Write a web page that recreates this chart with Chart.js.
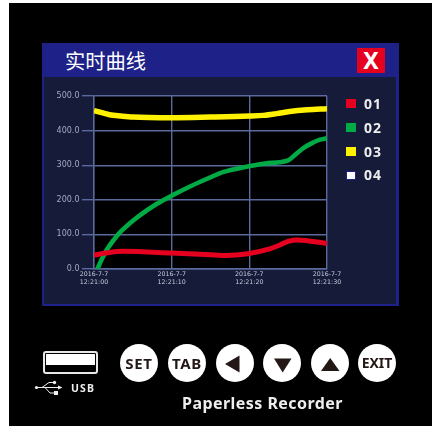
<!DOCTYPE html>
<html>
<head>
<meta charset="utf-8">
<title>实时曲线</title>
<script src="https://cdn.jsdelivr.net/npm/chart.js@4"></script>
<style>
html,body{margin:0;padding:0;background:#fff;overflow:hidden}
body{width:432px;height:426px;position:relative;font-family:"Noto Sans",sans-serif}
div,span{position:absolute;box-sizing:border-box}
#device{left:9px;top:3px;width:423px;height:423px;background:#000}
#panel{left:42px;top:43px;width:357px;height:263px;background:#161b3a;border:solid #1e2288;border-width:0 3px 2.5px 2px}
#header{left:42px;top:43px;width:357px;height:34px;background:#1e2288}
#title{left:65px;top:45px;font:400 20.3px/30px "Noto Sans CJK SC";color:#fff;white-space:nowrap}
#closeBtn{left:357px;top:48px;width:28px;height:25px;background:#e60020;color:#fff;font:700 23px/25px "Noto Sans";text-align:center}
#chart{position:absolute;left:0;top:0}
.swatch{left:346px;width:10px;height:9px}
.legendText{left:364px;width:30px;font:700 14px/18px "Noto Sans";letter-spacing:1px;color:#eee}
.btn{width:38px;height:38px;top:344px;border-radius:50%;background:#fff;color:#231815;font:700 15px/38px "Noto Sans";letter-spacing:.7px;text-align:center}
#usbPort{left:43px;top:351px;width:55px;height:23px;border:2px solid #e8e8e8;border-radius:3px}
#usbBar{left:46px;top:353.5px;width:49px;height:11px;background:#fff}
#usbText{left:71px;top:381px;font:700 10.5px/15px "Noto Sans";letter-spacing:1.1px;color:#eee}
#brand{left:182px;top:391px;font:700 16px/24px "Noto Sans";letter-spacing:.45px;color:#eee;white-space:nowrap}
svg{position:absolute;left:0;top:0}
</style>
</head>
<body>
<div id="device"></div>
<div id="panel"></div>
<div id="header"></div>
<div id="title">实时曲线</div>
<div id="closeBtn">X</div>
<canvas id="chart" width="432" height="426"></canvas>
<div id="legendBox"></div>
<div id="usbPort"></div>
<div id="usbBar"></div>
<div id="usbText">USB</div>
<div class="btn" style="left:120px">SET</div>
<div class="btn" style="left:168px">TAB</div>
<div class="btn" style="left:216px"></div>
<div class="btn" style="left:263px"></div>
<div class="btn" style="left:311px"></div>
<div class="btn" style="left:358px;font-size:14px;letter-spacing:0">EXIT</div>
<div id="brand">Paperless Recorder</div>
<svg width="432" height="426">
  <polygon points="239.5,355.5 239.5,372.5 225,364" fill="#231815"/>
  <polygon points="274,358.5 291.5,358.5 282.7,372.5" fill="#231815"/>
  <polygon points="321,371 339.5,371 330.2,358" fill="#231815"/>
  <g stroke="#eee" stroke-width="1" fill="none">
    <path d="M36 387.5H59"/>
    <path d="M42 387.5L49 382.5H53"/>
    <path d="M45 387.5L50 393H54"/>
  </g>
  <circle cx="36.5" cy="387.5" r="1.6" fill="#eee"/>
  <circle cx="54.5" cy="382.5" r="1.7" fill="#eee"/>
  <rect x="54" y="391" width="4" height="4" fill="#eee"/>
  <polygon points="58,385.5 62.5,387.5 58,389.5" fill="#eee"/>
</svg>
<script>
// Data
const seriesNames = ['01', '02', '03', '04'];
const seriesColors = ['#e60020', '#00ab45', '#fff100', '#ffffff'];
const yTicks = [0, 100, 200, 300, 400, 500];
const xDates = ['2016-7-7', '2016-7-7', '2016-7-7', '2016-7-7'];
const xTimes = ['12:21:00', '12:21:10', '12:21:20', '12:21:30'];

const redSeconds = [0, 1.5, 3.7, 10, 14.9, 17, 19.8, 22.6, 24, 25, 26.2, 30];
const redValues = [40, 46, 51, 46, 41, 39, 44, 58, 70, 80, 84, 74];
const greenSeconds = [0.43, 1, 1.63, 2.5, 3.35, 4.5, 5.9, 8, 10, 12.5, 14.9, 16.6, 19.8, 22, 25, 26, 27, 28, 29, 30];
const greenValues = [0, 28, 55, 83, 106, 130, 155, 187, 212, 240, 264, 280, 296, 305, 314, 332, 350, 363, 373, 378];
const yellowSeconds = [0, 1, 2, 3.5, 5, 10, 15, 20, 21.8, 23.5, 25.2, 27.5, 30];
const yellowValues = [458, 452, 446, 442, 439, 437, 439, 442, 444, 449, 455, 460, 463];
const lineWidths = [5, 4.6, 5.5];

function toPoints(seconds, values){
  return seconds.map((s, i) => ({x: s, y: values[i]}));
}

// Legend
const legendBox = document.getElementById('legendBox');
const legendTops = [99, 123, 147, 170.5];
seriesNames.forEach((name, i) => {
  const swatch = document.createElement('div');
  swatch.className = 'swatch';
  swatch.style.top = legendTops[i] + 'px';
  swatch.style.background = seriesColors[i];
  if(i === 3) swatch.style.border = '1.5px solid #1e2288';
  const text = document.createElement('div');
  text.className = 'legendText';
  text.style.top = (legendTops[i] - 4.5) + 'px';
  text.textContent = name;
  legendBox.appendChild(swatch);
  legendBox.appendChild(text);
});

// Black plot background
const plotBackground = {
  id: 'plotBackground',
  beforeDraw(chart){
    const a = chart.chartArea;
    chart.ctx.fillStyle = '#000';
    chart.ctx.fillRect(a.left, a.top, a.width, a.height);
  }
};

const gridColor = '#5a6a9c';

new Chart(document.getElementById('chart'), {
  type: 'line',
  data: {
    datasets: [
      {label: seriesNames[0], data: toPoints(redSeconds, redValues), borderColor: seriesColors[0], borderWidth: lineWidths[0]},
      {label: seriesNames[1], data: toPoints(greenSeconds, greenValues), borderColor: seriesColors[1], borderWidth: lineWidths[1]},
      {label: seriesNames[2], data: toPoints(yellowSeconds, yellowValues), borderColor: seriesColors[2], borderWidth: lineWidths[2]},
      {label: seriesNames[3], data: [], borderColor: seriesColors[3]}
    ]
  },
  options: {
    responsive: false,
    animation: false,
    devicePixelRatio: 1,
    layout: {autoPadding: false, padding: {left: 0, top: 96, right: 105, bottom: 127}},
    elements: {
      point: {radius: 0},
      line: {cubicInterpolationMode: 'monotone', borderCapStyle: 'butt'}
    },
    plugins: {legend: {display: false}, tooltip: {enabled: false}},
    scales: {
      x: {
        type: 'linear',
        min: 0,
        max: 30,
        afterFit(scale){ scale.height = 30; },
        afterBuildTicks(scale){ scale.ticks = xTimes.map((t, i) => ({value: i * 10})); },
        grid: {color: gridColor, lineWidth: 1.4, drawTicks: false},
        border: {color: gridColor, width: 1.4},
        ticks: {
          autoSkip: false,
          maxRotation: 0,
          padding: 2,
          color: '#c9ccda',
          font: {family: 'DejaVu Sans', size: 6.3},
          callback(value){ return [xDates[value / 10], xTimes[value / 10]]; }
        }
      },
      y: {
        min: 0,
        max: 500,
        afterFit(scale){ scale.width = 94; },
        afterBuildTicks(scale){ scale.ticks = yTicks.map(v => ({value: v})); },
        grid: {color: gridColor, lineWidth: 1.4, tickLength: 12, tickColor: gridColor},
        border: {color: gridColor, width: 1.4},
        ticks: {
          padding: 2.5,
          color: '#a5a9c0',
          font: {family: 'DejaVu Sans', size: 8},
          callback(value){ return value.toFixed(1); }
        }
      }
    }
  },
  plugins: [plotBackground]
});
</script>
</body>
</html>
